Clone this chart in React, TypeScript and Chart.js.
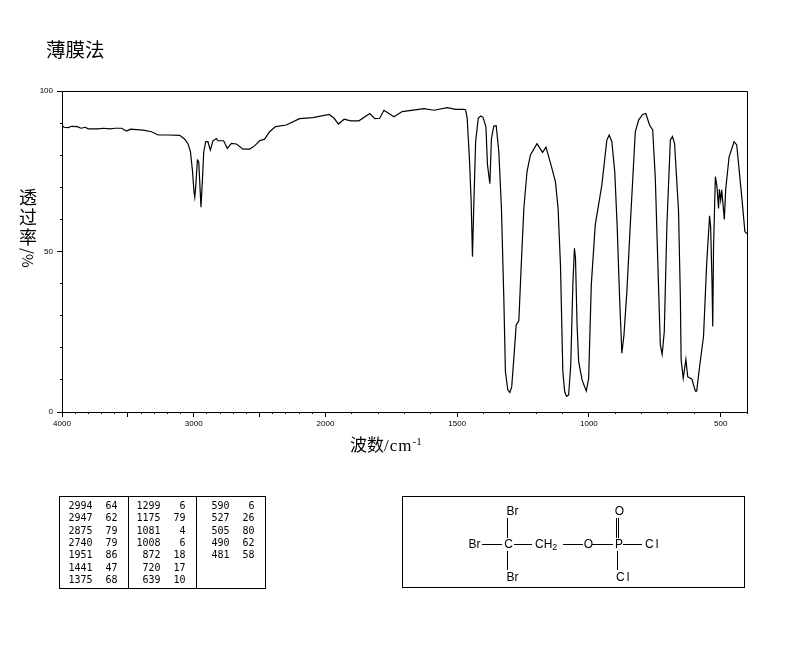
import React, { useEffect, useRef } from "react";
import { Chart, LinearScale, registerables } from "chart.js";

const wavenumbers = [
  4000, 3985, 3952, 3927, 3884, 3856, 3823, 3801, 3725, 3689, 3636, 3598, 3548, 3510, 3480, 3384, 3320, 3270, 3195, 3106,
  3068, 3043, 3025, 3010, 2998, 2992, 2985, 2972, 2962, 2955, 2945, 2934, 2924, 2909, 2892, 2874, 2854, 2828, 2816, 2773,
  2745, 2714, 2676, 2626, 2576, 2538, 2500, 2462, 2424, 2379, 2298, 2197, 2096,
  1986, 1967, 1951, 1929, 1904, 1873, 1832, 1812, 1794, 1778, 1740, 1709, 1626, 1588, 1538, 1506, 1475,
  1468, 1462, 1453, 1447, 1442, 1437, 1430, 1420, 1411, 1402, 1391, 1385, 1376, 1370, 1361, 1352, 1342, 1332, 1323, 1317,
  1308, 1300, 1293, 1285, 1276, 1266, 1258, 1247, 1235, 1222, 1197, 1176, 1163, 1144, 1127, 1117, 1108, 1099, 1092, 1085,
  1077, 1069, 1061, 1055, 1051, 1045, 1039, 1026, 1010, 1001, 991, 976, 951, 932, 923, 913, 902, 893, 883, 875,
  867, 856, 843, 824, 811, 796, 784, 770, 758, 748, 736, 729, 722, 714, 704, 691, 683, 675, 660, 653,
  650, 642, 632, 625, 609, 596, 591, 580, 565, 553, 542, 538, 533, 530, 527, 520, 514, 508, 505, 500,
  496, 486, 481, 468, 449, 439, 420, 408, 400,
];

const transmittance = [
  89.4, 88.7, 88.6, 89, 88.9, 88.4, 88.7, 88.2, 88.2, 88.4, 88.2, 88.4, 88.4, 87.5, 88.1, 87.8, 87.3, 86.3, 86.3, 86.2,
  85, 83.5, 81.1, 75.4, 68.6, 66.9, 70.2, 78.5, 78, 72.3, 63.8, 72.3, 81, 84.2, 84.2, 81.6, 84.5, 85.2, 84.5, 84.5,
  82.1, 83.7, 83.5, 81.9, 81.9, 82.9, 84.5, 85, 87.3, 88.9, 89.4, 91.4, 91.7,
  92.7, 91.5, 89.7, 91.2, 90.7, 90.7, 93, 91.4, 91.5, 94, 92, 93.6, 94.5, 94, 94.8, 94.3, 94.3,
  94.1, 91.5, 78, 65.5, 48.4, 64.5, 84.2, 91.5, 92.2, 91.8, 88.9, 77, 71.1, 85.2, 89.1, 89.2, 81.1, 63.4, 35.4, 12.6,
  6.9, 6.1, 7.9, 16.7, 27.1, 28.4, 43.7, 63.4, 74.9, 80.1, 83.6, 80.9, 82.5, 77, 71.7, 63.4, 45.8, 12.6, 6.3, 4.9,
  5.3, 14.6, 39.6, 51, 47.9, 27.1, 15.7, 10, 6.5, 10.5, 39.6, 58.3, 70.7, 84.7, 86.3, 84.2, 74.9, 58.3, 34.4, 18.3,
  24, 37.5, 58.3, 87.3, 91, 92.7, 93, 89.4, 87.9, 72.8, 39.6, 20.9, 18, 25, 58.3, 84.7, 85.8, 83.7, 62.9, 35.9,
  16.2, 10.5, 16.4, 11, 10.2, 6.5, 6.5, 14.1, 23.5, 46.3, 61.1, 57.7, 41.1, 26.6, 51.5, 73.3, 70.2, 63.4, 69.4, 66,
  69.2, 60, 69.2, 79.5, 84.2, 83.2, 67.1, 56.2, 55.5,
];

const xMajorTicks = [4000, 3500, 3000, 2500, 2000, 1500, 1000, 500];
const xLabelledTicks = [4000, 3000, 2000, 1500, 1000, 500];
const xMinorTicks = [
  4000, 3900, 3800, 3700, 3600, 3500, 3400, 3300, 3200, 3100, 3000, 2900, 2800, 2700, 2600, 2500, 2400, 2300, 2200, 2100,
  2000, 1900, 1800, 1700, 1600, 1500, 1400, 1300, 1200, 1100, 1000, 900, 800, 700, 600, 500, 400,
];
const yMajorTicks = [0, 50, 100];
const yMinorTicks = [0, 10, 20, 30, 40, 50, 60, 70, 80, 90, 100];

const chartTitle = "薄膜法";
const yTitleChars = "透过率";
const yTitleUnit = "/%";

const peakColumns = [
  { waves: ["2994", "2947", "2875", "2740", "1951", "1441", "1375"], values: ["64", "62", "79", "79", "86", "47", "68"] },
  { waves: ["1299", "1175", "1081", "1008", "872", "720", "639"], values: ["6", "79", "4", "6", "18", "17", "10"] },
  { waves: ["590", "527", "505", "490", "481"], values: ["6", "26", "80", "62", "58"] },
];

// The spectrum's axis changes scale at 2000 cm-1: 4000-2000 takes half the width per unit of 2000-400.
class PiecewiseScale extends LinearScale {
  static id = "piecewise";
  static defaults = LinearScale.defaults;
  getPixelForValue(v: number) {
    const u = v >= 2000 ? (4000 - v) / 2 : 1000 + (2000 - v);
    return (this as any).left + ((this as any).width * u) / 2600;
  }
  getValueForPixel(p: number) {
    const u = ((p - (this as any).left) / (this as any).width) * 2600;
    return u <= 1000 ? 4000 - u * 2 : 2000 - (u - 1000);
  }
}

Chart.register(...registerables, PiecewiseScale as any);

const frame = {
  id: "frame",
  afterDraw(c: any) {
    const { ctx, chartArea: a } = c;
    ctx.save();
    ctx.strokeStyle = "#000";
    ctx.lineWidth = 1;
    ctx.beginPath();
    ctx.moveTo(Math.round(a.left) + 0.5, Math.round(a.top) + 0.5);
    ctx.lineTo(Math.round(a.right) + 0.5, Math.round(a.top) + 0.5);
    ctx.lineTo(Math.round(a.right) + 0.5, Math.round(a.bottom) + 0.5);
    ctx.stroke();
    ctx.restore();
  },
};

const tickFont = { family: "'Liberation Sans'", size: 8 };
const hiddenGrid = { drawOnChartArea: false, color: "#000", tickColor: "#000" };

const mono = "'DejaVu Sans Mono'";
const sans = "'Liberation Sans'";
const rowY = [509, 521.4, 533.7, 546, 558.4, 570.7, 583];
const columnRight = [
  [92.5, 117.5],
  [160.5, 185.5],
  [229.5, 254.5],
];

function Overlay() {
  const bonds = [
    [507.5, 518, 507.5, 538],
    [507.5, 551, 507.5, 570],
    [482, 544.5, 502, 544.5],
    [514, 544.5, 532, 544.5],
    [563, 544.5, 583, 544.5],
    [592, 544.5, 613, 544.5],
    [623, 544.5, 642, 544.5],
    [616.5, 518, 616.5, 538],
    [618.5, 518, 618.5, 538],
    [617.5, 551, 617.5, 570],
  ];
  const atoms: [string, number, number][] = [
    ["Br", 512.5, 515],
    ["Br", 474.5, 548],
    ["C", 508.5, 548],
    ["O", 588.5, 548],
    ["P", 619, 548],
    ["O", 619.5, 515],
    ["Br", 512.5, 581],
  ];
  return (
    <svg width={794} height={652} style={{ position: "absolute", left: 0, top: 0, pointerEvents: "none" }}>
      <g fill="none" stroke="#000" strokeWidth={1} shapeRendering="crispEdges">
        <rect x={59.5} y={496.5} width={206} height={92} />
        <line x1={128.5} y1={496} x2={128.5} y2={588} />
        <line x1={196.5} y1={496} x2={196.5} y2={588} />
        <rect x={402.5} y={496.5} width={342} height={91} />
        {bonds.map((b, i) => (
          <line key={i} x1={b[0]} y1={b[1]} x2={b[2]} y2={b[3]} />
        ))}
      </g>
      <g fontFamily={mono} fontSize={10} fill="#000" textAnchor="end">
        {peakColumns.map((col, c) =>
          col.waves.map((w, r) => (
            <g key={`${c}-${r}`}>
              <text x={columnRight[c][0]} y={rowY[r]}>{w}</text>
              <text x={columnRight[c][1]} y={rowY[r]}>{col.values[r]}</text>
            </g>
          ))
        )}
      </g>
      <g fontFamily={sans} fontSize={12} fill="#000" textAnchor="middle">
        {atoms.map(([t, x, y], i) => (
          <text key={i} x={x} y={y}>{t}</text>
        ))}
        <text x={535} y={548} textAnchor="start">
          CH<tspan fontSize={9} dy={2}>2</tspan>
        </text>
        <text x={645} y={548} textAnchor="start" letterSpacing={2}>Cl</text>
        <text x={616} y={581} textAnchor="start" letterSpacing={2}>Cl</text>
      </g>
      <text x={350} y={451} fontSize={17} fill="#000" fontFamily="'Liberation Serif','Noto Sans CJK SC'">
        <tspan fontFamily="'Noto Sans CJK SC'">波数</tspan>
        <tspan letterSpacing={1}>/cm</tspan>
        <tspan fontSize={11} dy={-6}>-1</tspan>
      </text>
    </svg>
  );
}

export default function App() {
  const ref = useRef<HTMLCanvasElement>(null);
  useEffect(() => {
    const chart = new Chart(ref.current as HTMLCanvasElement, {
      type: "line",
      data: {
        labels: wavenumbers,
        datasets: [
          {
            label: "透过率",
            data: wavenumbers.map((x, i) => ({ x, y: transmittance[i] })),
            borderColor: "#000",
            borderWidth: 1.2,
            pointRadius: 0,
            tension: 0,
            fill: false,
            xAxisID: "x",
            yAxisID: "y",
          },
        ],
      },
      options: {
        animation: false,
        responsive: false,
        devicePixelRatio: 1,
        layout: { autoPadding: false, padding: { left: 46, top: 38, right: 47, bottom: 0 } },
        plugins: {
          legend: { display: false },
          tooltip: { enabled: false },
          title: {
            display: true,
            text: chartTitle,
            align: "start",
            color: "#000",
            font: { family: "'Noto Sans CJK SC'", size: 19.5, weight: "normal", lineHeight: 1.2 },
            padding: { top: 0, bottom: 29.6 },
          },
        },
        scales: {
          x: {
            type: "piecewise",
            min: 400,
            max: 4000,
            position: "bottom",
            weight: 1,
            afterFit: (s: any) => { s.height = 240; },
            afterBuildTicks: (s: any) => { s.ticks = xMajorTicks.map((value) => ({ value })); },
            border: { color: "#000" },
            grid: { ...hiddenGrid, tickLength: 5 },
            ticks: {
              autoSkip: false,
              maxRotation: 0,
              padding: 2,
              color: "#000",
              font: tickFont,
              callback: (v: any) => (xLabelledTicks.includes(v) ? String(v) : ""),
            },
          },
          x2: {
            type: "piecewise",
            min: 400,
            max: 4000,
            position: "bottom",
            weight: 0,
            afterFit: (s: any) => { s.height = 0; },
            afterBuildTicks: (s: any) => { s.ticks = xMinorTicks.map((value) => ({ value })); },
            border: { display: false },
            grid: { ...hiddenGrid, tickLength: 2 },
            ticks: { display: false, autoSkip: false },
          },
          y: {
            type: "linear",
            min: 0,
            max: 100,
            position: "left",
            weight: 1,
            afterFit: (s: any) => { s.width = 16; },
            // the box is narrow so that the title can start at the page's 46px; let "100" overhang it
            afterUpdate: (s: any) => { s._computeLabelArea = () => undefined; },
            afterBuildTicks: (s: any) => { s.ticks = yMajorTicks.map((value) => ({ value })); },
            border: { color: "#000" },
            grid: { ...hiddenGrid, tickLength: 5 },
            ticks: { autoSkip: false, padding: 4, color: "#000", font: tickFont },
          },
          y2: {
            type: "linear",
            min: 0,
            max: 100,
            position: "left",
            weight: 0,
            afterFit: (s: any) => { s.width = 0; },
            afterBuildTicks: (s: any) => { s.ticks = yMinorTicks.map((value) => ({ value })); },
            border: { display: false },
            grid: { ...hiddenGrid, tickLength: 2 },
            ticks: { display: false, autoSkip: false },
          },
        },
      } as any,
      plugins: [frame],
    });
    return () => chart.destroy();
  }, []);

  return (
    <div style={{ position: "absolute", left: 0, top: 0, width: 794, height: 652, background: "#fff" }}>
      <canvas ref={ref} width={794} height={652} style={{ display: "block" }} />
      <Overlay />
      <div
        style={{
          position: "absolute",
          left: 17,
          top: 188,
          writingMode: "vertical-rl",
          fontFamily: "'Noto Sans CJK SC'",
          fontSize: 18,
          lineHeight: "21px",
          letterSpacing: 2,
          color: "#000",
        }}
      >
        {yTitleChars}
        <span style={{ fontSize: 15, letterSpacing: 0 }}>{yTitleUnit}</span>
      </div>
    </div>
  );
}
